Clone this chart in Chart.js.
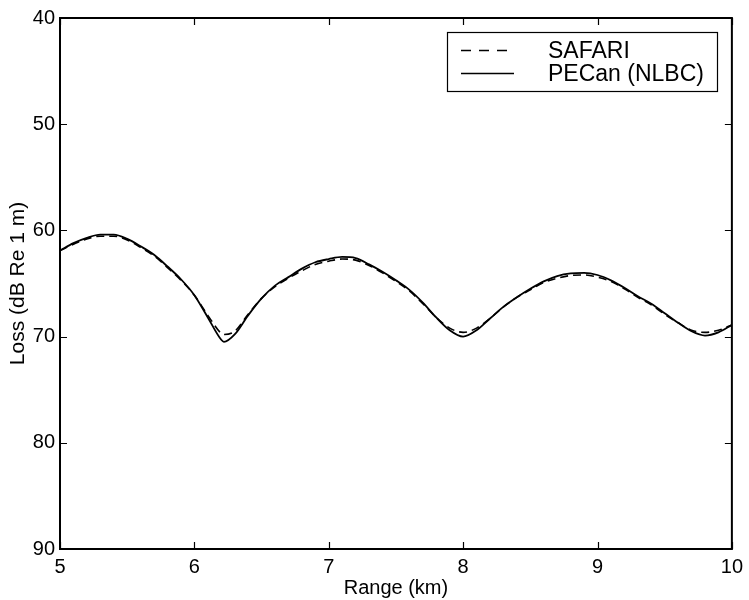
<!DOCTYPE html>
<html>
<head>
<meta charset="utf-8">
<script src="https://cdn.jsdelivr.net/npm/chart.js@4.4.0/dist/chart.umd.min.js"></script>
<style>
  html, body { margin: 0; padding: 0; background: #fff; }
  #wrap { width: 749px; height: 600px; }
</style>
</head>
<body>
<div id="wrap"><canvas id="chart" width="749" height="600"></canvas></div>
<script>
// range in km
const rangeKm = [5.0, 5.1, 5.2, 5.3, 5.4, 5.5, 5.6, 5.7, 5.8, 5.9,
  6.0, 6.1, 6.2, 6.22, 6.3, 6.4, 6.5, 6.6, 6.7, 6.8, 6.9,
  7.0, 7.1, 7.2, 7.3, 7.4, 7.5, 7.6, 7.7, 7.8, 7.9,
  8.0, 8.1, 8.2, 8.3, 8.4, 8.5, 8.6, 8.7, 8.8, 8.9,
  9.0, 9.1, 9.2, 9.3, 9.4, 9.5, 9.6, 9.7, 9.8, 9.9, 10.0];

// PECan (NLBC) - solid
const pecanLoss = [61.9, 61.2, 60.7, 60.4, 60.4, 60.8, 61.5, 62.3, 63.4, 64.6,
  66.1, 68.2, 70.3, 70.5, 69.8, 68.0, 66.4, 65.2, 64.4, 63.6, 63.0,
  62.7, 62.5, 62.6, 63.2, 63.9, 64.7, 65.6, 66.8, 68.2, 69.4,
  70.0, 69.4, 68.3, 67.2, 66.3, 65.5, 64.8, 64.3, 64.05, 64.0,
  64.2, 64.7, 65.4, 66.2, 66.9, 67.8, 68.7, 69.5, 69.9, 69.6, 68.9];

// SAFARI - dashed
const safariLoss = [61.9, 61.3, 60.8, 60.55, 60.55, 60.9, 61.6, 62.4, 63.5, 64.7,
  66.1, 68.0, 69.7, 69.8, 69.5, 67.9, 66.4, 65.3, 64.5, 63.8, 63.2,
  62.9, 62.7, 62.8, 63.3, 64.0, 64.8, 65.7, 66.9, 68.2, 69.2,
  69.6, 69.2, 68.3, 67.2, 66.3, 65.6, 64.9, 64.5, 64.25, 64.2,
  64.4, 64.8, 65.5, 66.3, 67.0, 67.9, 68.7, 69.4, 69.6, 69.4, 68.9];

const xTicks = [5, 6, 7, 8, 9, 10];
const yTicks = [40, 50, 60, 70, 80, 90];

const FONT = "'Liberation Sans', Arial, Helvetica, sans-serif";

function toXY(xs, ys) {
  return xs.map((x, i) => ({ x: x, y: ys[i] }));
}

// box, inward ticks on all four sides
const frameTicks = {
  id: "frameTicks",
  afterDatasetsDraw(chart) {
    const { ctx, chartArea: a, scales } = chart;
    ctx.save();
    ctx.strokeStyle = "#000";
    ctx.lineWidth = 2;
    ctx.strokeRect(a.left, a.top, a.right - a.left, a.bottom - a.top);
    ctx.lineWidth = 1.2;
    const len = 7;
    ctx.beginPath();
    xTicks.forEach(v => {
      const px = Math.round(scales.x.getPixelForValue(v)) + 0.5;
      ctx.moveTo(px, a.bottom); ctx.lineTo(px, a.bottom - len);
      ctx.moveTo(px, a.top); ctx.lineTo(px, a.top + len);
    });
    yTicks.forEach(v => {
      const py = Math.round(scales.y.getPixelForValue(v)) + 0.5;
      ctx.moveTo(a.left, py); ctx.lineTo(a.left + len, py);
      ctx.moveTo(a.right, py); ctx.lineTo(a.right - len, py);
    });
    ctx.stroke();
    ctx.restore();
  }
};

// legend box in upper right corner
const boxLegend = {
  id: "boxLegend",
  afterDraw(chart) {
    const { ctx, chartArea: a } = chart;
    const bx = a.left + 387, by = 32, bw = 270, bh = 59;
    ctx.save();
    ctx.fillStyle = "#fff";
    ctx.fillRect(bx, by, bw, bh);
    ctx.strokeStyle = "#000";
    ctx.lineWidth = 1.2;
    ctx.strokeRect(bx + 0.5, by + 0.5, bw, bh);
    ctx.font = "23px " + FONT;
    ctx.textBaseline = "middle";
    ctx.fillStyle = "#000";
    chart.data.datasets.forEach((ds, i) => {
      const ly = Math.round(by + 18 + i * 23) + 0.5;
      const dashed = !!ds.borderDash;
      ctx.beginPath();
      ctx.setLineDash(dashed ? [10, 8] : []);
      ctx.lineWidth = 1.3;
      ctx.moveTo(bx + 14, ly); ctx.lineTo(bx + (dashed ? 60 : 67), ly);
      ctx.stroke();
      ctx.setLineDash([]);
      ctx.fillText(ds.label, bx + 101, ly + 1);
    });
    ctx.restore();
  }
};

new Chart(document.getElementById("chart"), {
  type: "line",
  data: {
    datasets: [
      {
        label: "SAFARI",
        data: toXY(rangeKm, safariLoss),
        borderColor: "#000",
        borderWidth: 1.6,
        borderDash: [8, 5],
        pointRadius: 0,
        cubicInterpolationMode: "monotone",
        fill: false
      },
      {
        label: "PECan (NLBC)",
        data: toXY(rangeKm, pecanLoss),
        borderColor: "#000",
        borderWidth: 1.8,
        pointRadius: 0,
        cubicInterpolationMode: "monotone",
        fill: false
      }
    ]
  },
  options: {
    responsive: false,
    animation: false,
    layout: { padding: { top: 18, right: 14, left: 0, bottom: 0 } },
    plugins: { legend: { display: false }, tooltip: { enabled: false } },
    scales: {
      x: {
        type: "linear",
        min: 5, max: 10,
        afterBuildTicks: s => { s.ticks = xTicks.map(v => ({ value: v })); },
        afterFit: s => { s.height = 51; },
        grid: { display: false, drawTicks: false },
        border: { display: false },
        ticks: { color: "#000", font: { family: FONT, size: 20 }, padding: 6, maxRotation: 0 },
        title: { display: true, text: "Range (km)", color: "#000",
                 font: { family: FONT, size: 20 }, padding: { top: 0, bottom: 0 } }
      },
      y: {
        type: "linear",
        min: 40, max: 90,
        reverse: true,
        afterBuildTicks: s => { s.ticks = yTicks.map(v => ({ value: v })); },
        afterFit: s => { s.width = 60; },
        grid: { display: false, drawTicks: false },
        border: { display: false },
        ticks: { color: "#000", font: { family: FONT, size: 20 }, padding: 5 },
        title: { display: true, text: "Loss (dB Re 1 m)", color: "#000",
                 font: { family: FONT, size: 21 }, padding: { top: 6, bottom: 0 } }
      }
    }
  },
  plugins: [frameTicks, boxLegend]
});
</script>
</body>
</html>
